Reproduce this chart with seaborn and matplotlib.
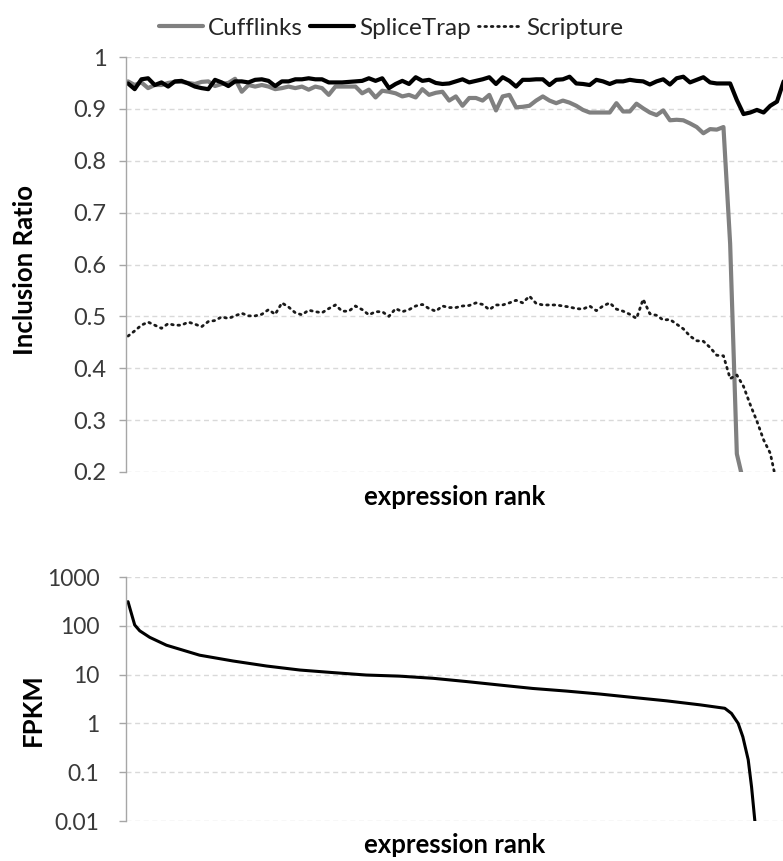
import numpy as np
import pandas as pd
import matplotlib
matplotlib.use("Agg")
import matplotlib.pyplot as plt
from matplotlib.lines import Line2D
import seaborn as sns

# Inclusion ratio per expression-rank bin (bins ordered from highest to lowest expression)
rank = list(range(99))

cufflinks = [
    0.953, 0.946, 0.951, 0.940, 0.946, 0.946, 0.950, 0.952, 0.952, 0.950,
    0.948, 0.952, 0.953, 0.944, 0.948, 0.950, 0.958, 0.933, 0.946, 0.943,
    0.946, 0.943, 0.938, 0.940, 0.943, 0.940, 0.943, 0.937, 0.943, 0.940,
    0.927, 0.943, 0.943, 0.943, 0.943, 0.930, 0.937, 0.922, 0.935, 0.933,
    0.930, 0.924, 0.927, 0.922, 0.938, 0.927, 0.931, 0.933, 0.916, 0.924,
    0.906, 0.921, 0.921, 0.916, 0.927, 0.897, 0.924, 0.927, 0.903, 0.904,
    0.906, 0.916, 0.924, 0.916, 0.911, 0.916, 0.912, 0.906, 0.898, 0.893,
    0.893, 0.893, 0.893, 0.911, 0.895, 0.895, 0.910, 0.901, 0.893, 0.888,
    0.897, 0.878, 0.879, 0.878, 0.872, 0.865, 0.853, 0.861, 0.860, 0.865,
    0.640, 0.235, 0.180, np.nan, np.nan, np.nan, np.nan, np.nan, np.nan,
]

splicetrap = [
    0.949, 0.938, 0.957, 0.959, 0.946, 0.951, 0.943, 0.953, 0.954, 0.949,
    0.943, 0.940, 0.938, 0.956, 0.951, 0.944, 0.953, 0.953, 0.951, 0.956,
    0.957, 0.954, 0.944, 0.953, 0.953, 0.957, 0.957, 0.959, 0.957, 0.957,
    0.951, 0.951, 0.951, 0.952, 0.953, 0.954, 0.959, 0.954, 0.959, 0.940,
    0.948, 0.954, 0.948, 0.961, 0.954, 0.956, 0.950, 0.948, 0.949, 0.953,
    0.957, 0.951, 0.954, 0.957, 0.961, 0.948, 0.961, 0.954, 0.943, 0.956,
    0.956, 0.957, 0.957, 0.946, 0.956, 0.957, 0.962, 0.949, 0.948, 0.946,
    0.956, 0.953, 0.948, 0.953, 0.953, 0.956, 0.954, 0.953, 0.947, 0.953,
    0.957, 0.947, 0.959, 0.962, 0.951, 0.956, 0.961, 0.951, 0.949, 0.949,
    0.949, 0.917, 0.890, 0.893, 0.898, 0.893, 0.906, 0.914, 0.953,
]

scripture = [
    0.462, 0.472, 0.483, 0.489, 0.483, 0.477, 0.486, 0.483, 0.483, 0.489,
    0.485, 0.480, 0.490, 0.492, 0.499, 0.496, 0.501, 0.506, 0.501, 0.501,
    0.504, 0.513, 0.504, 0.526, 0.518, 0.507, 0.503, 0.512, 0.509, 0.507,
    0.515, 0.522, 0.510, 0.510, 0.520, 0.513, 0.503, 0.509, 0.509, 0.500,
    0.515, 0.509, 0.513, 0.520, 0.523, 0.515, 0.510, 0.520, 0.517, 0.517,
    0.520, 0.521, 0.526, 0.523, 0.513, 0.522, 0.522, 0.526, 0.531, 0.526,
    0.539, 0.525, 0.522, 0.522, 0.522, 0.520, 0.518, 0.515, 0.514, 0.520,
    0.511, 0.520, 0.526, 0.514, 0.510, 0.504, 0.496, 0.533, 0.505, 0.502,
    0.493, 0.494, 0.485, 0.476, 0.462, 0.453, 0.452, 0.440, 0.425, 0.424,
    0.380, 0.387, 0.365, 0.330, 0.298, 0.262, 0.236, 0.176, 0.150,
]

# Expression level along the same rank axis
fpkm_rank = [0.0, 0.5, 1.0, 1.75, 3.25, 5.75, 10.7, 15.7, 20.7, 25.7,
             30.6, 35.6, 40.6, 45.6, 50.6, 55.6, 60.5, 65.5, 70.5, 75.5,
             80.5, 85.5, 89.2, 90.2, 91.2, 91.9, 92.7, 93.2, 93.7]
fpkm = [312, 180, 104, 79, 58, 40, 25, 19, 15, 12.4,
        11.0, 9.8, 9.3, 8.4, 7.2, 6.1, 5.2, 4.6, 4.0, 3.4,
        2.9, 2.4, 2.04, 1.6, 1.0, 0.53, 0.18, 0.05, 0.0098]

ratio_ticks = [0.2, 0.3, 0.4, 0.5, 0.6, 0.7, 0.8, 0.9, 1.0]
ratio_labels = ["0.2", "0.3", "0.4", "0.5", "0.6", "0.7", "0.8", "0.9", "1"]
fpkm_ticks = [0.01, 0.1, 1, 10, 100, 1000]
fpkm_labels = ["0.01", "0.1", "1", "10", "100", "1000"]

series_names = ["Cufflinks", "SpliceTrap", "Scripture"]

ratios = pd.DataFrame({"rank": rank, "Cufflinks": cufflinks,
                       "SpliceTrap": splicetrap, "Scripture": scripture})
expr = pd.DataFrame({"rank": fpkm_rank, "FPKM": fpkm})

sns.set_theme(style="white")
plt.rcParams["font.family"] = ["Lato", "DejaVu Sans"]

W, H = 783, 861
fig = plt.figure(figsize=(W / 100, H / 100), dpi=100)
ax1 = fig.add_axes([126 / W, (H - 472) / H, (W - 126) / W, (472 - 57) / H])
ax2 = fig.add_axes([126 / W, (H - 821) / H, (W - 126) / W, (821 - 577) / H])

styles = {
    "Cufflinks": dict(color="#808080", lw=3.0, linestyle="-"),
    "SpliceTrap": dict(color="black", lw=3.0, linestyle="-"),
    "Scripture": dict(color="#1a1a1a", lw=2.0, linestyle=(0, (0.6, 1.7)),
                      dash_capstyle="round"),
}
for name in series_names:
    sub = ratios[["rank", name]].dropna()
    sns.lineplot(data=sub, x="rank", y=name, ax=ax1, legend=False,
                 **styles[name])

sns.lineplot(data=expr, x="rank", y="FPKM", ax=ax2, color="black", lw=2.2,
             legend=False)
ax2.set_yscale("log")

grid_kw = dict(color="#d9d9d9", linestyle=(0, (3.6, 2.6)), linewidth=1.0)
label_font = dict(fontsize=18.5, fontweight="bold", color="black")

for ax, pad, size in ((ax1, 9, 17), (ax2, 14, 16.5)):
    ax.set_xlim(-0.3, 97.9)
    ax.set_xticks([])
    for side in ("top", "right", "bottom"):
        ax.spines[side].set_visible(False)
    ax.spines["left"].set_color("#a6a6a6")
    ax.spines["left"].set_linewidth(1.0)
    ax.yaxis.grid(True, **grid_kw)
    ax.xaxis.grid(False)
    ax.set_axisbelow(True)
    ax.tick_params(axis="y", which="major", left=True, direction="out",
                   length=5, width=1.0, color="#a6a6a6", labelsize=size,
                   labelcolor="#3a3a3a", pad=pad)
    ax.tick_params(axis="y", which="minor", left=False)
    ax.set_xlabel("expression rank", **label_font)

ax1.set_ylim(0.2, 1.0)
ax1.set_yticks(ratio_ticks)
ax1.set_yticklabels(ratio_labels)
ax1.set_ylabel("Inclusion Ratio", **label_font)
ax1.yaxis.set_label_coords((37 - 126) / 657, (472 - 270) / 415)
ax1.xaxis.set_label_coords(0.5, -(497 - 472) / 415)

ax2.set_ylim(0.01, 1000)
ax2.set_yticks(fpkm_ticks)
ax2.set_yticklabels(fpkm_labels)
ax2.yaxis.set_minor_locator(matplotlib.ticker.NullLocator())
ax2.set_ylabel("FPKM", **label_font)
ax2.yaxis.set_label_coords((45 - 126) / 657, (821 - 710) / 244)
ax2.xaxis.set_label_coords(0.5, -(845 - 821) / 244)
for ax in (ax1, ax2):
    ax.xaxis.label.set_va("center")

handles = [Line2D([], [], **styles[n]) for n in series_names]
fig.legend(handles, series_names, loc="upper center",
           bbox_to_anchor=(0.5, 1.005), ncol=3, frameon=False,
           fontsize=17.5, handlelength=1.8, handletextpad=0.2,
           columnspacing=0.3, labelcolor="#262626")

fig.savefig("out.png", dpi=100)
